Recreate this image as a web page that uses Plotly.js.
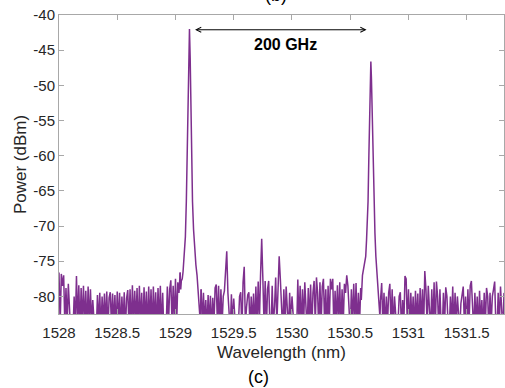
<!DOCTYPE html>
<html>
<head>
<meta charset="utf-8">
<script src="https://cdn.plot.ly/plotly-3.0.1.min.js"></script>
<style>html,body{margin:0;padding:0;background:#fff;}#chart{width:505px;height:388px;}</style>
</head>
<body>
<div id="chart"></div>
<script>
// Noise floor segment A: 1528.00 .. 1529.04, step 0.01 nm
const segAStart = 1528.00;
const segAPower = [
-76.6,-84,-76.8,-78.5,-77.0,-84,-78.8,-84,-78.2,-84,
-85,-86,-85,-80.0,-84,-77.1,-84,-78.4,-85,-78.8,
-84,-78.5,-84,-79.2,-85,-78.6,-84,-79.0,-84,-80.5,
-85,-86,-85,-79.8,-84,-79.5,-85,-80.0,-84,-79.6,
-84,-79.3,-85,-80.2,-79.4,-84,-79.6,-84,-79.8,-85,
-79.3,-84,-79.5,-85,-80.0,-84,-79.4,-85,-80.3,-79.1,
-84,-79.0,-85,-78.4,-84,-79.2,-84,-78.8,-85,-78.5,
-84,-79.5,-85,-78.7,-84,-79.3,-85,-78.6,-84,-79.0,
-85,-78.6,-84,-79.4,-85,-78.8,-84,-78.5,-85,-79.5,
-85,-86,-84.5,-78.6,-84,-79.0,-77.7,-84,-78.5,-84,
-77.5,-84,-78.0,-79.5,-76.6
];

// First channel peak
const peak1Wl = [1529.04,1529.045,1529.05,1529.058,1529.065,1529.072,1529.078,1529.085,1529.093,1529.1,1529.107,1529.114,1529.12,1529.126,1529.132,1529.138,1529.142,1529.146,1529.155,1529.165,1529.175,1529.185,1529.195,1529.205,1529.212,1529.22];
const peak1Power = [-76.6,-79.0,-77.8,-77.5,-76.5,-75.0,-73.3,-71.5,-66.5,-60,-52,-45,-42,-46,-53,-60,-62,-66.5,-70.5,-73.5,-75.5,-77,-79,-81,-83.5,-79.0];

// Noise floor segment B: 1529.22 .. 1530.59, step 0.01 nm
const segBStart = 1529.22;
const segBPower = [
-79.0,-84,-79.5,-84,-80.5,-85,-79.8,-84,-79.9,-85,
-80.2,-84,-78.8,-78.3,-84,-78.5,-85,-79.0,-84,-80.0,
-79.2,-76.0,-73.6,-79.5,-84,-85,-79.7,-84,-80.3,-85,
-86,-85.5,-84,-80.0,-79.4,-85,-78.0,-75.8,-84,-81.5,
-79.8,-79.4,-85,-80.0,-84,-79.6,-85,-78.6,-84,-77.9,
-84,-77.0,-71.8,-77.5,-84,-77.8,-85,-79.0,-77.8,-84,
-85,-78.5,-84,-81.5,-77.3,-84,-78.0,-74.3,-77.5,-84,
-85,-79.0,-84,-78.6,-84,-85,-79.5,-84,-80.0,-85,
-85,-86,-85,-77.6,-84,-78.5,-85,-79.0,-84,-78.0,
-84,-85,-78.8,-84,-78.3,-85,-79.5,-77.8,-84,-77.3,
-79.5,-85,-78.0,-84,-78.6,-77.5,-84,-79.0,-85,-78.5,
-84,-77.5,-79.0,-77.5,-85,-79.2,-84,-78.4,-84,-78.0,
-85,-79.0,-84,-78.2,-79.5,-77.0,-78.5,-84,-85,-79.0,
-84,-78.2,-84,-78.1,-85,-79.5,-84,-78.8
];

// Second channel peak
const peak2Wl = [1530.59,1530.595,1530.605,1530.615,1530.625,1530.633,1530.64,1530.646,1530.653,1530.66,1530.667,1530.673,1530.677,1530.682,1530.69,1530.698,1530.705,1530.712,1530.72,1530.73,1530.739,1530.748,1530.755,1530.76];
const peak2Power = [-78.8,-80.5,-77,-76,-75,-74.3,-72,-70,-66.5,-60,-53,-48,-46.6,-49,-56,-62,-66.5,-71,-74.3,-76.5,-78.3,-80,-83,-80.5];

// Noise floor segment C: 1530.76 .. 1531.82, step 0.01 nm
const segCStart = 1530.76;
const segCPower = [
-80.5,-78.1,-84,-79.5,-85,-80.0,-84,-79.5,-78.2,-84,
-79.0,-85,-80.0,-84,-85,-84,-80.0,-79.4,-85,-80.5,
-84,-77.1,-77.5,-84,-79.0,-85,-79.5,-84,-80.0,-85,
-79.2,-84,-79.6,-85,-78.8,-84,-79.0,-85,-76.4,-79.0,
-84,-78.5,-84,-85,-79.0,-84,-78.0,-85,-77.9,-80.0,
-85,-79.0,-84,-85,-79.5,-84,-78.7,-80.0,-84,-85,
-80.0,-84,-78.6,-85,-79.5,-84,-80.0,-84,-85,-81.0,
-79.5,-78.6,-84,-80.0,-85,-79.0,-84,-78.5,-77.8,-84,
-85,-79.5,-84,-80.0,-85,-79.2,-84,-80.5,-85,-79.5,
-84,-78.8,-80.0,-85,-79.5,-84,-80.0,-79.0,-77.9,-84,
-85,-79.5,-84,-78.6,-84,-85,-79.5
];
const sampleStep = 0.01;

const xTickVals = [1528, 1528.5, 1529, 1529.5, 1530, 1530.5, 1531, 1531.5];
const xTickText = ['1528', '1528.5', '1529', '1529.5', '1530', '1530.5', '1531', '1531.5'];
const yTickVals = [-80, -75, -70, -65, -60, -55, -50, -45, -40];
const yTickText = ['-80', '-75', '-70', '-65', '-60', '-55', '-50', '-45', '-40'];

const purple = '#7E2F8E';
const lineStyle = {color: purple, width: 1.5};

const traces = [
  {type: 'scatter', mode: 'lines', x0: segAStart, dx: sampleStep, y: segAPower, line: lineStyle, hoverinfo: 'skip'},
  {type: 'scatter', mode: 'lines', x: peak1Wl, y: peak1Power, line: lineStyle, hoverinfo: 'skip'},
  {type: 'scatter', mode: 'lines', x0: segBStart, dx: sampleStep, y: segBPower, line: lineStyle, hoverinfo: 'skip'},
  {type: 'scatter', mode: 'lines', x: peak2Wl, y: peak2Power, line: lineStyle, hoverinfo: 'skip'},
  {type: 'scatter', mode: 'lines', x0: segCStart, dx: sampleStep, y: segCPower, line: lineStyle, hoverinfo: 'skip'}
];

const axisCommon = {
  ticks: 'inside', ticklen: 5, tickwidth: 1, tickcolor: '#a8a8a8',
  showline: true, linecolor: '#a8a8a8', linewidth: 1, mirror: 'ticks',
  showgrid: false, zeroline: false,
  tickfont: {size: 15, color: '#262626'}
};

const layout = {
  width: 505, height: 388,
  margin: {l: 59, r: 1, t: 15, b: 74, pad: 0},
  paper_bgcolor: '#ffffff', plot_bgcolor: '#ffffff',
  showlegend: false,
  font: {family: '"Liberation Sans", Arial, sans-serif', color: '#262626'},
  xaxis: Object.assign({}, axisCommon, {
    range: [1528, 1531.82], tickmode: 'array', tickvals: xTickVals, ticktext: xTickText,
    ticklabelstandoff: 5,
    title: {text: 'Wavelength (nm)', font: {size: 17, color: '#262626'}, standoff: 6}
  }),
  yaxis: Object.assign({}, axisCommon, {
    range: [-82.5, -40], tickmode: 'array', tickvals: yTickVals, ticktext: yTickText,
    title: {text: 'Power (dBm)', font: {size: 17, color: '#262626'}, standoff: 2}
  }),
  annotations: [
    {x: 1530.64, y: -42.1, ax: 1529.155, ay: -42.1, xref: 'x', yref: 'y', axref: 'x', ayref: 'y',
     text: '', showarrow: true, arrowside: 'end+start', arrowhead: 5, startarrowhead: 5,
     arrowsize: 1, startarrowsize: 1, arrowwidth: 1, arrowcolor: '#000000'},
    {x: 1529.946, y: -44.2, xref: 'x', yref: 'y', text: '<b>200 GHz</b>', showarrow: false,
     font: {size: 16, color: '#000000'}},
    {x: 0.449, y: -0.2107, xref: 'paper', yref: 'paper', text: '(c)', showarrow: false,
     xanchor: 'center', yanchor: 'middle', font: {size: 18, color: '#000000'}},
    {x: 0.487, y: 1.067, xref: 'paper', yref: 'paper', text: '(b)', showarrow: false,
     xanchor: 'center', yanchor: 'middle', font: {size: 18, color: '#000000'}}
  ]
};

Plotly.newPlot('chart', traces, layout, {staticPlot: true, displayModeBar: false});
</script>
</body>
</html>
